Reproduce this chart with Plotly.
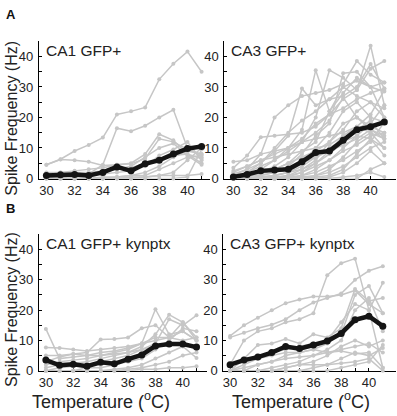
import plotly.graph_objects as go

temps = [30, 31, 32, 33, 34, 35, 36, 37, 38, 39, 40, 41]

# Panel A: CA1 GFP+
ca1_cells = [
    [4.5, 6.3, 9, 11, 13.4, 21, 22, 23.3, 32.5, 37.6, 41.6, 35],
    [0.5, 0.8, 1, 1.5, 4.5, 16.5, 15.5, 17.3, 20, 22.5, 10, 7],
    [4.5, 6.2, 6, 5.5, 4.3, 4.5, 5, 8, 14.5, 12.5, 8, 5],
    [2, 2, 2.5, 3, 3.5, 4.5, 4.8, 6.5, 13, 12, 9.5, 8],
    [1, 1, 1, 1.5, 2, 3, 4, 7, 10, 11.5, 7.5, 4.5],
    [0.5, 0.5, 0.5, 1, 1.5, 2, 2.5, 4, 7.5, 9.5, 12, 6],
    [0, 0, 0, 0, 0, 0.5, 1, 2, 4, 7, 9, 8],
    [0, 0, 0, 0, 0, 0, 0, 0.5, 1, 2, 6, 10],
    [0, 0, 0, 0, 0, 0, 0, 0, 0, 0, 0.5, 9.5],
    [1.5, 2, 2, 2, 2.5, 3, 3.5, 5, 6, 7.5, 8, 6.5],
    [0, 0, 0, 0, 0, 0, 0.5, 0.5, 1, 1, 1, 1.5],
    [0, 0, 0, 0, 0.5, 0.5, 1, 1, 3, 5, 7, 7.5],
]
ca1_mean = [1, 1.2, 1.3, 1, 2, 3.8, 2.5, 4.8, 6, 8, 9.8, 10.5]

# Panel A right: CA3 GFP+
ca3_cells = [
    [3.5, 7.5, 13.5, 14, 14.5, 15, 17, 21, 26, 29, 36, 38.5],
    [1, 3, 8, 20, 24, 27, 28, 29, 31, 38.5, 34, 31.5],
    [0.5, 2, 5, 9, 14, 29.5, 24, 26, 27, 30, 37.5, 29.5],
    [0, 1, 3, 6, 10, 16, 35.5, 22, 30, 32, 30, 28.5],
    [0, 0.5, 2, 4, 7, 12, 20, 35.5, 33, 29, 43.5, 24],
    [0, 0, 1, 2, 4, 8, 14, 18, 34.5, 35, 30, 20],
    [0, 0, 0.5, 1, 2, 5, 10, 15, 22, 25, 20, 18.5],
    [0, 0, 0, 0.5, 1, 3, 6, 12, 18, 20, 17, 15],
    [2.5, 4, 6, 7, 8, 9, 10, 11, 14, 17, 16, 13],
    [0, 0, 0, 0, 0.5, 1, 3, 6, 10, 14, 18, 24],
    [0, 0, 0, 0, 0, 0.5, 1, 3, 7, 12, 15, 10],
    [0, 0, 0, 0, 0, 0, 0.5, 1, 3, 8, 13, 7.5],
    [0, 0, 0, 0, 0, 0, 0, 0.5, 2, 5, 9, 5],
    [0, 0, 0, 0, 0, 0, 0, 0, 0.5, 1, 2, 0.5],
    [5.5, 6, 8, 9, 10, 13, 18, 21, 23, 26, 28, 29.5],
    [1, 2, 4, 6, 9, 12, 15, 19, 26.5, 20, 16, 14],
    [0, 0.5, 1.5, 3, 5, 7, 9, 12, 16, 22, 25, 20],
    [0, 0, 0, 1, 2, 4, 7, 10, 13, 16, 19, 13],
    [0, 0, 0, 0, 1, 2, 4, 6, 9, 11, 14, 15],
    [0, 0, 0, 0, 0, 1, 2, 4, 6, 9, 12, 18.5],
    [2, 4, 6, 8, 10, 12, 13, 14, 15, 17, 15, 13],
    [0, 1, 2, 3, 5, 9, 12, 22, 28, 33, 30, 31.5],
    [0, 0, 0, 0, 0, 0, 0, 0, 0, 0, 3, 5],
    [0, 0, 0.5, 1, 2, 3, 5, 8, 12, 14, 13, 10],
    [0.5, 1, 1, 2, 3, 5, 7, 9, 11, 13, 16, 19],
    [0, 0, 0, 0, 0, 0, 1, 2, 4, 7, 10, 12],
    [1.5, 3, 5, 10, 15, 19, 22, 26, 30, 27, 25, 23],
    [0, 0, 0, 0, 0.5, 2, 5, 9, 14, 17, 21, 29],
]
ca3_mean = [0.5, 1.3, 2.5, 2.8, 3, 5.5, 8.5, 9, 12.5, 16, 17, 18.5]

# Panel B left: CA1 GFP+ kynptx
ca1k_cells = [
    [13.8, 4, 4.5, 5, 6, 6.5, 7.5, 9, 11, 11, 13, 10],
    [7.7, 7.5, 7, 6.5, 7, 7.5, 8, 9, 10, 11, 10, 11],
    [3, 4.5, 5.5, 6, 10.3, 10.5, 11, 14, 15, 11, 16, 10],
    [2, 3, 3.5, 4, 5, 6, 7, 9, 20.3, 12, 13, 10],
    [1, 2, 2.5, 3, 4, 5, 6, 8, 12, 18.5, 16, 11],
    [0, 1, 1.5, 2, 3, 4, 5, 7, 9, 17, 15, 18.3],
    [0, 0, 0, 1, 1, 2, 3, 4, 7, 10, 14, 13],
    [0, 0, 0, 0, 0, 0.5, 1, 2, 4, 6, 8, 4.2],
    [0, 0, 0, 0, 0, 0, 0, 0.5, 0.5, 1, 1, 1.5],
    [5, 5, 5.5, 5, 5, 5.5, 6, 7, 8, 9, 9, 7],
    [0, 0, 0, 0, 0, 0, 0.5, 1, 2, 3, 5, 6],
]
ca1k_mean = [3.5, 1.8, 2.1, 1.5, 2.8, 2.3, 3.8, 5.2, 8.2, 8.8, 8.8, 7.8]

# Panel B right: CA3 GFP+ kynptx
ca3k_cells = [
    [11.5, 15, 17.5, 20, 22.3, 23.5, 24.5, 24.5, 25, 26.5, 22, 19],
    [11, 12.5, 14, 15.2, 17, 20, 22.5, 24, 25.5, 30, 33, 34.5],
    [2, 10, 13, 14, 16, 17, 19, 31.5, 35.5, 37, 20, 1],
    [0, 4, 8.5, 9, 10.5, 9, 12, 11, 14, 27, 23, 24],
    [0, 2, 4, 6, 7, 8, 9, 10, 16, 22, 20, 29],
    [0, 0, 2, 3, 5, 6, 7, 9, 12, 25, 28, 19],
    [0, 0, 0, 1, 2, 3, 5, 7, 10, 20, 24, 13],
    [0, 0, 0, 0, 1, 2, 3, 5, 8, 10, 8, 10],
    [0, 0, 0, 0, 0, 0, 1, 2, 4, 6, 5, 7.5],
    [0, 0, 0, 0, 0, 0, 0, 0, 1, 2, 3, 8.5],
    [2, 3, 4, 5, 6, 6, 7, 6, 7, 8, 9, 6],
    [0, 1, 2, 3, 4, 4.5, 5, 6, 6.5, 5.5, 6, 1],
    [0, 0, 0, 0, 1, 2, 2, 2, 2.5, 3, 4, 0],
]
ca3k_mean = [2, 3.5, 4.5, 6, 8, 7.3, 8.5, 9.8, 12.3, 16.8, 18, 14.7]

titles = ["CA1 GFP+", "CA3 GFP+", "CA1 GFP+ kynptx", "CA3 GFP+ kynptx"]
y_ticks = [0, 10, 20, 30, 40]
x_ticks = [30, 32, 34, 36, 38, 40]

W, H = 397, 416
FONT = "Liberation Sans, Arial, sans-serif"
GREY = "#c6c6c6"

# pixel layout (left, right, top, bottom) and x ranges
panels = [
    (38, 210, 42, 182, [29.47, 41.63]),
    (224, 396, 42, 182, [29.35, 41.85]),
    (38, 207, 239, 378, [29.49, 41.8]),
    (223, 396, 239, 378, [29.52, 41.95]),
]
datasets = [(ca1_cells, ca1_mean), (ca3_cells, ca3_mean),
            (ca1k_cells, ca1k_mean), (ca3k_cells, ca3k_mean)]

fig = go.Figure()
layout = {}
annotations = []
for i, ((l, r, t, b, xr), (cells, mean)) in enumerate(zip(panels, datasets)):
    n = i + 1
    xa = "x" if n == 1 else f"x{n}"
    ya = "y" if n == 1 else f"y{n}"
    for c in cells:
        fig.add_trace(go.Scatter(x=temps, y=c, mode="lines+markers",
                                 line=dict(color=GREY, width=1.5),
                                 marker=dict(color=GREY, size=4),
                                 xaxis=xa, yaxis=ya, showlegend=False,
                                 cliponaxis=False))
    fig.add_trace(go.Scatter(x=temps, y=mean, mode="lines+markers",
                             line=dict(color="#141414", width=4.5),
                             marker=dict(color="#141414", size=7),
                             xaxis=xa, yaxis=ya, showlegend=False,
                             cliponaxis=False))
    xkey = "xaxis" if n == 1 else f"xaxis{n}"
    ykey = "yaxis" if n == 1 else f"yaxis{n}"
    layout[xkey] = dict(domain=[l / W, r / W], range=xr, anchor=ya,
                        showline=True, linecolor="black", linewidth=1,
                        showgrid=False, zeroline=False,
                        tickmode="array", tickvals=x_ticks,
                        ticks="inside", ticklen=3, tickcolor="black",
                        minor=dict(dtick=1, tick0=30, ticks="inside", ticklen=3,
                                   tickcolor="black", showgrid=False),
                        tickfont=dict(family=FONT, size=13, color="#222"),
                        layer="below traces", fixedrange=True)
    layout[ykey] = dict(domain=[1 - b / H, 1 - t / H], range=[0, 45], anchor=xa,
                        showline=True, linecolor="black", linewidth=1,
                        showgrid=False, zeroline=False,
                        tickmode="array", tickvals=y_ticks,
                        ticks="inside", ticklen=3, tickcolor="black",
                        minor=dict(dtick=5, tick0=0, ticks="inside", ticklen=3,
                                   tickcolor="black", showgrid=False),
                        ticklabelstandoff=2,
                        tickfont=dict(family=FONT, size=13, color="#222"),
                        layer="below traces", fixedrange=True)
    annotations.append(dict(text=titles[i], xref="paper", yref="paper",
                            x=(l + 5) / W, y=1 - (t - 1) / H,
                            xanchor="left", yanchor="top", showarrow=False,
                            font=dict(family=FONT, size=15.5, color="#222")))

# row / axis titles
for yc in (120, 315):
    annotations.append(dict(text="Spike Frequency (Hz)", xref="paper", yref="paper",
                            x=11 / W, y=1 - yc / H, textangle=-90,
                            xanchor="center", yanchor="middle", showarrow=False,
                            font=dict(family=FONT, size=16, color="#222")))
for xc in (100, 301):
    annotations.append(dict(text="Temperature (<sup>o</sup>C)", xref="paper", yref="paper",
                            x=xc / W, y=1 - 408 / H,
                            xanchor="center", yanchor="middle", showarrow=False,
                            font=dict(family=FONT, size=18, color="#222")))
for lab, yc in (("A", 15), ("B", 213)):
    annotations.append(dict(text="<b>%s</b>" % lab, xref="paper", yref="paper",
                            x=10 / W, y=1 - yc / H,
                            xanchor="center", yanchor="middle", showarrow=False,
                            font=dict(family=FONT, size=13, color="#111")))

fig.update_layout(width=W, height=H, margin=dict(l=0, r=0, t=0, b=0),
                  paper_bgcolor="white", plot_bgcolor="white",
                  annotations=annotations, **layout)
fig.write_html("out.html", config={"displayModeBar": False})

# remove default browser body margin so the figure sits at the page origin
with open("out.html", encoding="utf-8") as f:
    html = f.read()
html = html.replace("<head>", "<head><style>html,body{margin:0;padding:0;overflow:hidden}</style>", 1)
with open("out.html", "w", encoding="utf-8") as f:
    f.write(html)
